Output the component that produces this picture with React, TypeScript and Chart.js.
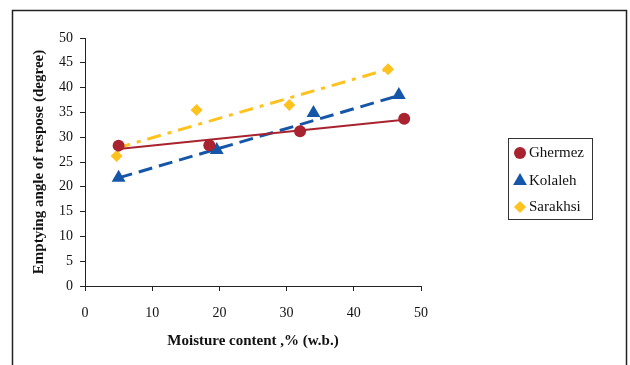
import React, { useEffect, useRef } from "react";
import { Chart, registerables } from "chart.js";

Chart.register(...registerables);

const ghermezX = [5, 18.5, 32, 47.5];
const ghermezY = [28.3, 28.4, 31.2, 33.7];
const kolalehX = [5, 19.6, 34, 46.7];
const kolalehY = [21.8, 27.4, 34.9, 38.5];
const sarakhsiX = [4.7, 16.6, 30.4, 45.1];
const sarakhsiY = [26.2, 35.5, 36.5, 43.7];

const ghermezTrendX = [5, 47.5];
const ghermezTrendY = [27.6, 33.5];
const kolalehTrendX = [5, 46.7];
const kolalehTrendY = [21.8, 38.4];
const sarakhsiTrendX = [4.7, 45.1];
const sarakhsiTrendY = [27.8, 43.7];

const seriesNames = ["Ghermez", "Kolaleh", "Sarakhsi"];
const xTitle = "Moisture content ,% (w.b.)";
const yTitle = "Emptying angle of respose (degree)";

const RED = "#A8232F";
const BLUE = "#1656A8";
const YELLOW = "#FFC21F";

const pts = (xs: number[], ys: number[]) => xs.map((x, i) => ({ x, y: ys[i] }));

function drawMarker(ctx: CanvasRenderingContext2D, style: string, x: number, y: number, r: number, color: string) {
  ctx.fillStyle = color;
  ctx.beginPath();
  if (style === "circle") {
    ctx.arc(x, y, r, 0, Math.PI * 2);
  } else if (style === "triangle") {
    const h = r * 1.5;
    ctx.moveTo(x, y - r);
    ctx.lineTo(x + r * Math.sin(Math.PI / 3) , y + r * 0.5);
    ctx.lineTo(x - r * Math.sin(Math.PI / 3), y + r * 0.5);
    void h;
  } else {
    ctx.moveTo(x, y - r);
    ctx.lineTo(x + r, y);
    ctx.lineTo(x, y + r);
    ctx.lineTo(x - r, y);
  }
  ctx.closePath();
  ctx.fill();
}

export default function App() {
  const ref = useRef<HTMLCanvasElement>(null);
  useEffect(() => {
    if (!ref.current) return;
    const serif = "'Liberation Serif', 'Times New Roman', serif";
    const legendPlugin = {
      id: "customLegend",
      afterDraw(chart: any) {
        const ctx = chart.ctx as CanvasRenderingContext2D;
        ctx.save();
        ctx.strokeStyle = "#222";
        ctx.lineWidth = 1.5;
        ctx.strokeRect(12.5, 10.5, 614, 400);
        ctx.lineWidth = 1;
        ctx.strokeStyle = "#333";
        ctx.strokeRect(508.5, 138.5, 84, 81);
        const items = [
          { name: seriesNames[0], style: "circle", color: RED, r: 6, y: 153 },
          { name: seriesNames[1], style: "triangle", color: BLUE, r: 8, y: 181 },
          { name: seriesNames[2], style: "rectRot", color: YELLOW, r: 6, y: 207 },
        ];
        ctx.font = `15px ${serif}`;
        ctx.textBaseline = "middle";
        ctx.textAlign = "left";
        for (const it of items) {
          drawMarker(ctx, it.style, 520, it.y, it.r, it.color);
          ctx.fillStyle = "#111";
          ctx.fillText(it.name, 529, it.y);
        }
        ctx.restore();
      },
    };
    const chart = new Chart(ref.current, {
      type: "scatter",
      data: {
        datasets: [
          {
            label: seriesNames[0] + " trend",
            data: pts(ghermezTrendX, ghermezTrendY),
            showLine: true,
            borderColor: RED,
            borderWidth: 2,
            pointRadius: 0,
            order: 3,
          },
          {
            label: seriesNames[1] + " trend",
            data: pts(kolalehTrendX, kolalehTrendY),
            showLine: true,
            borderColor: BLUE,
            borderWidth: 3,
            borderDash: [14, 7],
            pointRadius: 0,
            order: 3,
          },
          {
            label: seriesNames[2] + " trend",
            data: pts(sarakhsiTrendX, sarakhsiTrendY),
            showLine: true,
            borderColor: YELLOW,
            borderWidth: 3,
            borderDash: [14, 7, 4, 7],
            pointRadius: 0,
            order: 3,
          },
          {
            label: seriesNames[0],
            data: pts(ghermezX, ghermezY),
            pointStyle: "circle",
            pointRadius: 6,
            backgroundColor: RED,
            borderColor: RED,
            borderWidth: 0,
            order: 1,
          },
          {
            label: seriesNames[1],
            data: pts(kolalehX, kolalehY),
            pointStyle: "triangle",
            pointRadius: 8,
            backgroundColor: BLUE,
            borderColor: BLUE,
            borderWidth: 0,
            order: 1,
          },
          {
            label: seriesNames[2],
            data: pts(sarakhsiX, sarakhsiY),
            pointStyle: "rectRot",
            pointRadius: 6,
            backgroundColor: YELLOW,
            borderColor: YELLOW,
            borderWidth: 0,
            order: 1,
          },
        ],
      },
      options: {
        animation: false,
        responsive: false,
        maintainAspectRatio: false,
        layout: { padding: { left: 26, top: 38, right: 209, bottom: 11 } },
        plugins: { legend: { display: false }, tooltip: { enabled: false } },
        scales: {
          x: {
            type: "linear",
            min: 0,
            max: 50,
            ticks: { stepSize: 10, color: "#111", font: { family: serif, size: 14 }, padding: 14 },
            grid: { display: true, drawOnChartArea: false, drawTicks: true, tickLength: 5, color: "#222" },
            border: { display: true, color: "#222", width: 1 },
            title: { display: true, text: xTitle, color: "#111", font: { family: serif, size: 15, weight: "bold" } },
            afterFit: (s: any) => { s.height = 68; },
          },
          y: {
            type: "linear",
            min: 0,
            max: 50,
            ticks: { stepSize: 5, color: "#111", font: { family: serif, size: 14 }, padding: 7 },
            grid: { display: true, drawOnChartArea: false, drawTicks: true, tickLength: 5, color: "#222" },
            border: { display: true, color: "#222", width: 1 },
            title: { display: true, text: yTitle, color: "#111", font: { family: serif, size: 15, weight: "bold" } },
            afterFit: (s: any) => { s.width = 59; },
          },
        },
      } as any,
      plugins: [legendPlugin],
    });
    return () => chart.destroy();
  }, []);
  return (
    <div style={{ position: "absolute", left: 0, top: 0, width: 630, height: 365, background: "#fff" }}>
      <canvas ref={ref} width={630} height={365} style={{ width: 630, height: 365, display: "block" }} />
    </div>
  );
}
